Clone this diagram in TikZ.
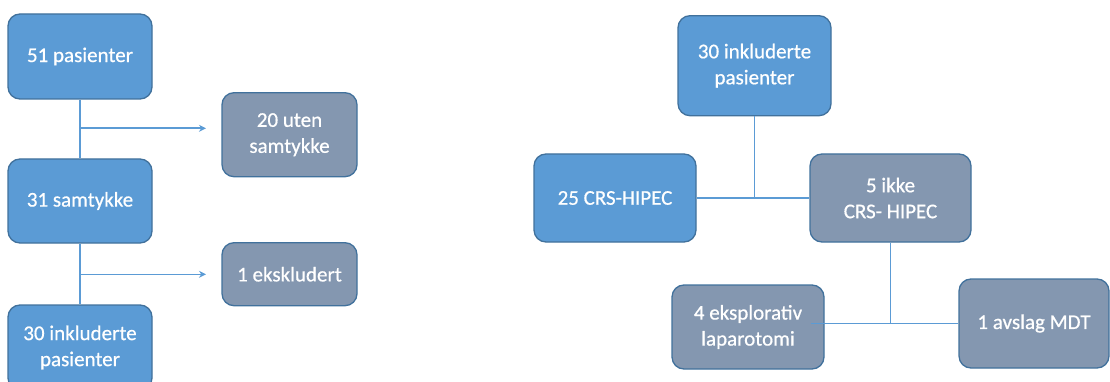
\documentclass[tikz,border=0pt]{standalone}
\usepackage{fontspec}
\setmainfont{Carlito}[FakeBold=0.6]
\usetikzlibrary{arrows.meta}
\definecolor{boxblue}{HTML}{5B9BD5}
\definecolor{boxgray}{HTML}{8497B0}
\definecolor{edgeblue}{HTML}{41719C}
\tikzset{
    RB1/.style ={rectangle,rounded corners=12pt,minimum width=144pt,minimum height=85pt,draw=edgeblue,line width=1.3pt,fill=boxblue,text=white,align=center,font=\fontsize{21}{26}\selectfont},
    RB2/.style ={RB1,fill=boxgray},
    LN/.style ={draw=boxblue,line width=1.6pt},
    AR/.style ={LN,-{Stealth[length=7pt,width=7pt]}}}
\begin{document}
\begin{tikzpicture}[x=1pt,y=-1pt]
        \clip (0,0) rectangle (1110,382);
        % left flow
        \node[RB1] (1) at(80,56.5){51 pasienter};
        \node[RB2,minimum width=135pt,minimum height=84pt] (2) at(289.5,134.7){20 uten\\samtykke};
        \node[RB1,minimum height=84pt] (3) at(80,201){31 samtykke};
        \node[RB2,minimum width=135pt,minimum height=63pt] (4) at(289.5,274.2){1 ekskludert};
        \node[RB1] (5) at(80,347.5){30 inkluderte\\pasienter};
        \coordinate (a1) at(206,128.3);
        \coordinate (a2) at(206,274.3);
        \draw[LN] (1) --(3);
        \draw[AR] (1.south |- a1) --(a1);
        \draw[LN] (3) --(5);
        \draw[AR] (3.south |- a2) --(a2);
        % right flow
        \node[RB1,minimum width=153pt,minimum height=100pt] (6) at(754.5,65.7){30 inkluderte\\pasienter};
        \node[RB1,minimum width=162pt,minimum height=88pt] (7) at(615,198){25 CRS-HIPEC};
        \node[RB2,minimum width=161pt,minimum height=88pt] (8) at(890.5,198){5 ikke\\CRS- HIPEC};
        \node[RB2,minimum width=152pt,minimum height=84pt] (9) at(748,327){4 eksplorativ\\laparotomi};
        \node[RB2,minimum width=150pt,minimum height=89pt] (10) at(1034,323.5){1 avslag MDT};
        \coordinate (b1) at([xshift=-14pt]9.east);
        \draw[LN] (7) --(8);
        \draw[LN] (6) --(6 |- 7);
        \draw[LN] (8) --(8 |- 10);
        \draw[LN] (b1 |- 10.west) --(10);
\end{tikzpicture}
\end{document}
